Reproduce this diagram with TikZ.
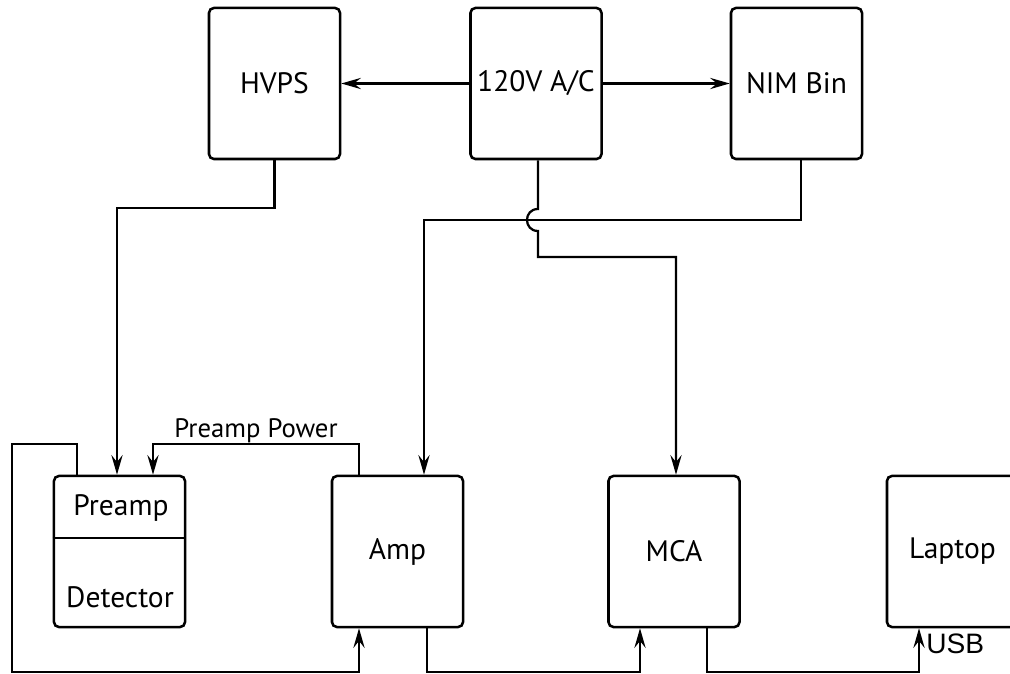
\documentclass[tikz,border=0pt]{standalone}
\usepackage{fontspec}
\setmainfont{PT Sans}
\newfontfamily\usbfont{Liberation Sans}
\usetikzlibrary{arrows.meta}

\begin{document}
\begin{tikzpicture}[
  x=0.025cm,y=-0.025cm,
  >={Stealth[length=14pt,width=8pt,inset=5pt]},
  every node/.style={font=\fontsize{21}{25}\selectfont},
  box/.style={draw,line width=1.8pt,rounded corners=3.5pt,minimum width=3.275cm,minimum height=3.775cm,inner sep=0pt},
  wire/.style={line width=1.6pt}
]
\useasboundingbox (0,0) rectangle (1010,674);
% boxes
\node[box] (hvps) at (274.5,83.5) {HVPS};
\node[box] (ac) at (536,83.5) {120V A/C};
\node[box] (nim) at (796.5,83.5) {NIM Bin};
\node[box] (det) at (119.5,551.5) {};
\node[box] (amp) at (397.5,551.5) {Amp};
\node[box] (mca) at (674,551.5) {MCA};
\node[box] (laptop) at (952.5,551.5) {Laptop};
\draw[line width=1.8pt] (det.west |- 0,538) -- (det.east |- 0,538);
\node (preamp) at (121,508) {Preamp};
\node (detector) at (120,597) {Detector};
% power lines
\draw[wire,->] (ac.west) -- (hvps.east);
\draw[wire,->] (ac.east) -- (nim.west);
\draw[wire,->] (hvps.south) |- (117,208) -- (117,0 |- det.north);
\draw[wire,->] (801,0 |- nim.south) |- (424,220) -- (424,0 |- amp.north);
\draw[wire,->] (538,0 |- ac.south) -- (538,209)
  .. controls (523.3,209) and (523.3,231) .. (538,231)
  -- (538,257) -| (676,0 |- mca.north);
\draw[wire,->] (359,0 |- amp.north) |- (153,444)
  node[pos=0.75,above,inner sep=0pt,font=\fontsize{19}{22}\selectfont] (pwr) {Preamp Power}
  -- (153,0 |- det.north);
% signal lines
\draw[wire,->] (77,0 |- det.north) |- (12,444) |- (359,672) -- (359,0 |- amp.south);
\draw[wire,->] (427,0 |- amp.south) |- (640,672) -- (640,0 |- mca.south);
\draw[wire,->] (707,0 |- mca.south) |- (919,672) -- (919,0 |- laptop.south);
\node[anchor=base west,inner sep=0pt,font=\usbfont\fontsize{20}{22}\selectfont] (usb) at (926,653) {USB};
\end{tikzpicture}
\end{document}
